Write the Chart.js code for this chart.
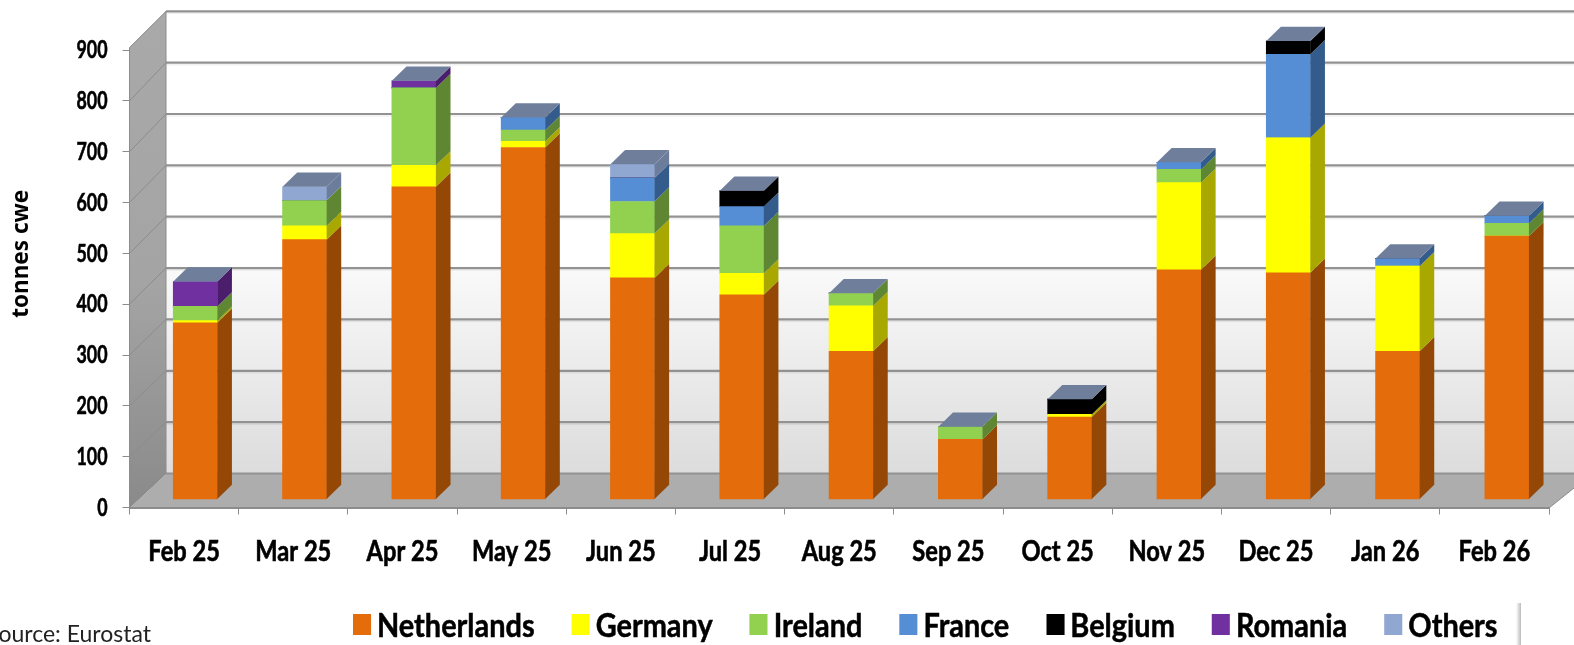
<!DOCTYPE html>
<html><head><meta charset="utf-8">
<script src="https://cdn.jsdelivr.net/npm/chart.js@4"></script>
<style>
html,body{margin:0;padding:0;background:#fff;overflow:hidden}
#wrap{position:relative;width:1574px;height:645px;overflow:hidden;filter:blur(.45px)}
canvas{position:absolute;left:0;top:0}
#source{position:absolute;right:calc(1574px - 151px);top:619px;font:400 23px Lato,sans-serif;color:#222;white-space:nowrap}
#legend{position:absolute;left:353px;top:602px;height:45px;display:flex;align-items:center;font:700 32px Lato,sans-serif;-webkit-text-stroke:.5px #000;color:#000;white-space:nowrap;transform:scaleX(.903);transform-origin:0 0}
#legend .it{display:flex;align-items:center;margin-right:41px}
#legend .sw{width:20px;height:21px;margin-right:6.6px;display:block}
#shadow{position:absolute;left:1516px;top:603px;width:5px;height:42px;background:linear-gradient(to right,#fff,#bbb)}
</style></head><body>
<div id="wrap"><canvas id="c" width="1574" height="645"></canvas>
<div id="source">Source: Eurostat</div><div id="legend"></div><div id="shadow"></div></div>
<script>
const categories=["Feb 25","Mar 25","Apr 25","May 25","Jun 25","Jul 25","Aug 25","Sep 25","Oct 25","Nov 25","Dec 25","Jan 26","Feb 26"];
const netherlands=[346,509,613,690,434,401,290,117,161,450,444,290,516];
const germany=[4,27,42,12,87,42,89,0,5,171,265,167,0];
const ireland=[28,50,152,22,63,93,25,25,0,26,0,0,25];
const france=[0,0,0,25,46,38,0,0,0,14,164,15,15];
const belgium=[0,0,0,0,0,31,0,0,30,0,26,0,0];
const romania=[49,0,14,0,0,0,0,0,0,0,0,0,0];
const others=[0,27,0,0,27,0,0,0,0,0,0,0,0];
const tickValues=[0,100,200,300,400,500,600,700,800,900];

const names=["Netherlands","Germany","Ireland","France","Belgium","Romania","Others"];
const values=[netherlands,germany,ireland,france,belgium,romania,others];
const faces=["#E46C0A","#FFFF00","#92D050","#558ED5","#000000","#7030A0","#8FA7D1"];
const sides=["#954706","#A8A800","#5F8733","#335B8B","#000000","#4A1E6B","#6C7D9C"];
const topFace="#6F7F9B";

function squeezeLabels(s,c,sx){
  if(s._squeezed)return; s._squeezed=true;
  const orig=s.drawLabels;
  s._computeLabelArea=()=>undefined;
  s.drawLabels=function(ca){
    const items=this.getLabelItems(ca);
    items.forEach(it=>{if(!it._sq){it._sq=true;it.options.translation[0]/=sx;}});
    c.save();c.scale(sx,1);orig.call(this,ca);c.restore();
  };
}

const wallPlugin={id:'walls',beforeDraw(ch){
  const c=ch.ctx,y=ch.scales.y,a=ch.chartArea,L=a.left,R=a.right,F=y.getPixelForValue(0)+.5,B=474,dx=36.5;
  if(!y._titleShifted){y._titleShifted=true;const orig=y.drawTitle;y.drawTitle=function(){c.save();c.translate(0,-6);orig.call(this);c.restore();};}
  squeezeLabels(y,c,.70);squeezeLabels(ch.scales.x,c,.845);
  const back=v=>B-(F-y.getPixelForValue(v))*1.0105;
  c.save();
  let g=c.createLinearGradient(0,265,0,474);
  g.addColorStop(0,'#ffffff');g.addColorStop(.03,'#f9f9f9');g.addColorStop(1,'#dcdcdc');
  c.fillStyle='#fff';c.fillRect(L+dx,back(900),1574,265-back(900));
  c.fillStyle=g;c.fillRect(L+dx,265,1574,B-265);
  g=c.createLinearGradient(0,12,0,507);
  g.addColorStop(0,'#a9a9a9');g.addColorStop(.55,'#a4a4a4');g.addColorStop(1,'#8a8a8a');
  c.fillStyle=g;c.beginPath();c.moveTo(L,y.getPixelForValue(900)-2.5);c.lineTo(L+dx,back(900));c.lineTo(L+dx,B);c.lineTo(L,F);c.closePath();c.fill();
  c.fillStyle='#adadad';c.beginPath();c.moveTo(L,F);c.lineTo(L+dx,B);c.lineTo(1574,B);c.lineTo(1574,488);c.lineTo(R,F);c.closePath();c.fill();
  tickValues.forEach(v=>{
    const fy=y.getPixelForValue(v),by=back(v);
    if(v>0){c.strokeStyle='rgba(0,0,0,.06)';c.lineWidth=1.5;c.beginPath();c.moveTo(L+dx,by+2);c.lineTo(1574,by+2);c.stroke();}
    c.strokeStyle='#929292';c.lineWidth=2.2;c.beginPath();c.moveTo(L+dx,by);c.lineTo(1574,by);c.stroke();
    c.strokeStyle='#8c8c8c';c.lineWidth=1;c.beginPath();c.moveTo(L,fy-(v==900?2.5:0));c.lineTo(L+dx,by);c.stroke();
  });
  c.strokeStyle='#8c8c8c';c.lineWidth=1;c.beginPath();c.moveTo(L+dx,back(900));c.lineTo(L+dx,B);c.stroke();
  c.beginPath();c.moveTo(L,y.getPixelForValue(900)-2.5);c.lineTo(L,F);c.stroke();
  c.beginPath();c.moveTo(R,F);c.lineTo(1574,488);c.stroke();
  c.restore();
},
beforeDatasetsDraw(ch){ch.ctx.save();ch.ctx.transform(1.001,0,0,1,11,0);},
afterDatasetsDraw(ch){
  const c=ch.ctx,dx=14.6,dy=14.2;
  ch.data.labels.forEach((_,i)=>{
    let topEl=null;
    ch.data.datasets.forEach((ds,d)=>{
      if(!ds.data[i])return;
      const el=ch.getDatasetMeta(d).data[i];
      const {x,y,base,width}=el.getProps(['x','y','base','width'],true);
      const r=x+width/2;
      c.fillStyle=sides[d];c.beginPath();c.moveTo(r,y);c.lineTo(r+dx,y-dy);c.lineTo(r+dx,base-dy);c.lineTo(r,base);c.closePath();c.fill();
      topEl={x,y,width};
    });
    if(topEl){const l=topEl.x-topEl.width/2,r=l+topEl.width,y=topEl.y;
      c.fillStyle=topFace;c.beginPath();c.moveTo(l,y);c.lineTo(l+dx,y-dy);c.lineTo(r+dx,y-dy);c.lineTo(r,y);c.closePath();c.fill();}
  });
  c.restore();
}};

new Chart(document.getElementById('c'),{
  type:'bar',
  data:{labels:categories,datasets:names.map((n,i)=>({label:n,data:values[i],backgroundColor:faces[i],yAxisID:'yBar',xAxisID:'x',barThickness:44,borderWidth:0}))},
  plugins:[wallPlugin],
  options:{responsive:false,animation:false,
    layout:{padding:{top:12,right:25,left:0,bottom:0}},
    plugins:{legend:{display:false},tooltip:{enabled:false},title:{display:false}},
    scales:{
      x:{stacked:true,offset:true,afterFit(s){s.height=137.5;s.paddingLeft=0;s.paddingRight=0;},
         grid:{drawOnChartArea:false,drawTicks:true,tickLength:7,color:'#8c8c8c',lineWidth:1,offset:true},
         border:{color:'#8c8c8c',width:2},
         ticks:{autoSkip:false,maxRotation:0,padding:21,color:'#000',textStrokeColor:'#000',textStrokeWidth:.6,font:{family:'Lato',weight:'700',size:28}}},
      y:{position:'left',min:0,max:975,afterFit(s){s.width=129.5;s.paddingTop=0;s.paddingBottom=0;},
         afterBuildTicks(s){s.ticks=tickValues.map(v=>({value:v}));},
         grid:{drawOnChartArea:false,drawTicks:true,tickLength:7,color:'#8c8c8c'},
         border:{display:false},
         ticks:{padding:15,color:'#000',textStrokeColor:'#000',textStrokeWidth:.6,font:{family:'Lato',weight:'700',size:25.5}},
         title:{display:true,text:'tonnes cwe',color:'#000',padding:{top:8,bottom:0},font:{family:'Noto Sans',weight:'700',size:22.5}}},
      yBar:{display:false,stacked:true,min:-16.7,max:956}
    }
  }
});
const lg=document.getElementById('legend');
names.forEach((n,i)=>{const it=document.createElement('div');it.className='it';
  const s=document.createElement('span');s.className='sw';s.style.background=faces[i];
  const t=document.createElement('span');t.textContent=n;it.append(s,t);lg.append(it);});
</script></body></html>
